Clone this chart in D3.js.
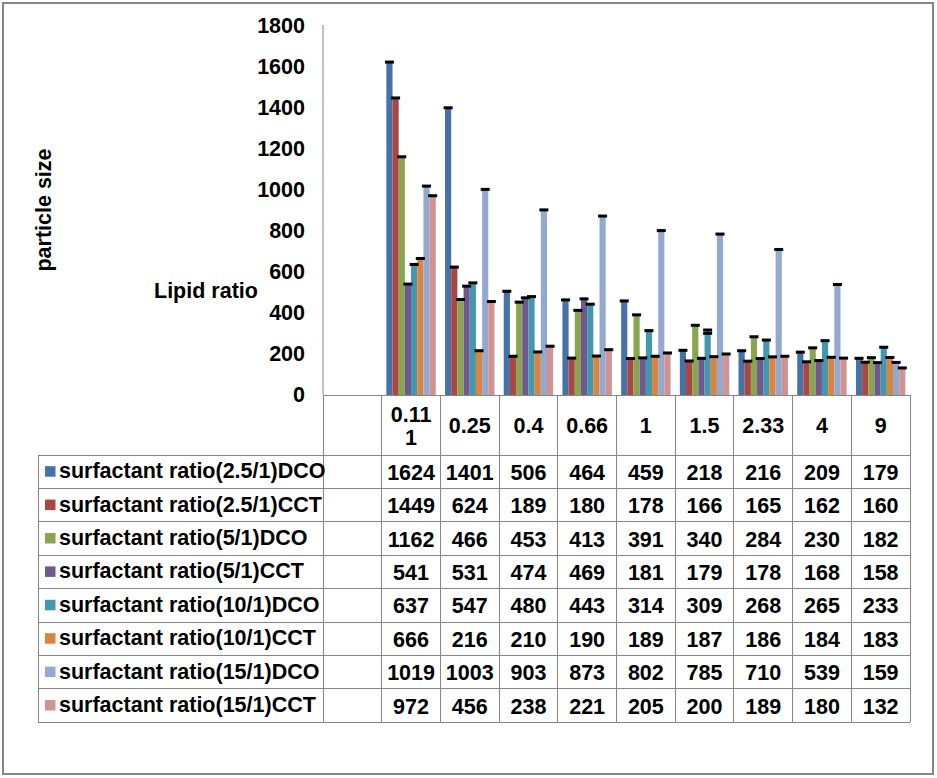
<!DOCTYPE html>
<html>
<head>
<meta charset="utf-8">
<script src="https://cdn.jsdelivr.net/npm/d3@7"></script>
<style>
  html, body { margin: 0; padding: 0; background: #fff; }
  svg { display: block; }
  text { font-family: "Liberation Sans", Arial, sans-serif; font-weight: bold; fill: #000; }
</style>
</head>
<body>
<svg id="chart" width="937" height="778"></svg>
<script>
// ---- data ----
const categories = ["", "0.111", "0.25", "0.4", "0.66", "1", "1.5", "2.33", "4", "9"];
const seriesNames = [
  "surfactant ratio(2.5/1)DCO",
  "surfactant ratio(2.5/1)CCT",
  "surfactant ratio(5/1)DCO",
  "surfactant ratio(5/1)CCT",
  "surfactant ratio(10/1)DCO",
  "surfactant ratio(10/1)CCT",
  "surfactant ratio(15/1)DCO",
  "surfactant ratio(15/1)CCT"
];
const s25DCO  = [1624, 1401, 506, 464, 459, 218, 216, 209, 179];
const s25CCT  = [1449, 624, 189, 180, 178, 166, 165, 162, 160];
const s5DCO   = [1162, 466, 453, 413, 391, 340, 284, 230, 182];
const s5CCT   = [541, 531, 474, 469, 181, 179, 178, 168, 158];
const s10DCO  = [637, 547, 480, 443, 314, 309, 268, 265, 233];
const s10CCT  = [666, 216, 210, 190, 189, 187, 186, 184, 183];
const s15DCO  = [1019, 1003, 903, 873, 802, 785, 710, 539, 159];
const s15CCT  = [972, 456, 238, 221, 205, 200, 189, 180, 132];
const seriesValues = [s25DCO, s25CCT, s5DCO, s5CCT, s10DCO, s10CCT, s15DCO, s15CCT];
// error bar half-widths (mostly negligible)
const err10DCO = [0, 0, 0, 0, 0, 8, 0, 0, 0];
const seriesErrors = [null, null, null, null, err10DCO, null, null, null];
const colors = ["#4572A7", "#AA4643", "#89A54E", "#71588F", "#4198AF", "#DB843D", "#93A9CF", "#D19392"];
const yTicks = [0, 200, 400, 600, 800, 1000, 1200, 1400, 1600, 1800];
const yTitle = "particle size";
const xTitle = "Lipid ratio";

// ---- layout ----
const FS = 21.5;
const lineColor = "#868686";
const plotLeft = 323, plotRight = 910, plotTop = 26, plotBottom = 395;
const tableLeft = 38, headerBottom = 455, rowH = 33.4;

const svg = d3.select("#chart");

// outer border
svg.append("rect").attr("x", 3).attr("y", 3).attr("width", 930).attr("height", 771)
  .attr("fill", "none").attr("stroke", lineColor).attr("stroke-width", 2);

const x = d3.scaleBand().domain(categories).range([plotLeft, plotRight]).paddingInner(0).paddingOuter(0);
const bw = x.bandwidth();
const barW = bw / (seriesNames.length + 1.5);
const xs = d3.scaleBand().domain(seriesNames).range([barW * 0.75, bw - barW * 0.75]).padding(0);
const y = d3.scaleLinear().domain([0, 1800]).range([plotBottom, plotTop]);

// y axis
const yAxis = d3.axisLeft(y).tickValues(yTicks).tickFormat(d3.format("d")).tickSize(0).tickPadding(18);
const gy = svg.append("g").attr("transform", `translate(${plotLeft},0)`).call(yAxis);
gy.select(".domain").attr("stroke", lineColor).attr("d", `M0,${plotTop - 1}V${plotBottom}`);
gy.selectAll("text").style("font-size", FS + "px").style("font-family", '"Liberation Sans", Arial, sans-serif')
  .style("font-weight", "bold").attr("fill", "#000");

// titles
svg.append("text").attr("transform", `translate(51,210) rotate(-90)`)
  .attr("text-anchor", "middle").style("font-size", FS + "px").text(yTitle);
svg.append("text").attr("x", 154).attr("y", 298).style("font-size", FS + "px").text(xTitle);

// bars
const dataCats = categories.slice(1);
const bars = svg.append("g");
seriesNames.forEach((name, si) => {
  const g = bars.append("g");
  g.selectAll("rect").data(seriesValues[si]).join("rect")
    .attr("x", (d, i) => x(dataCats[i]) + xs(name))
    .attr("y", d => y(d))
    .attr("width", xs.bandwidth())
    .attr("height", d => y(0) - y(d))
    .attr("fill", colors[si]);
});
// error caps
seriesNames.forEach((name, si) => {
  const g = bars.append("g");
  seriesValues[si].forEach((v, i) => {
    const e = seriesErrors[si] ? seriesErrors[si][i] : 0;
    const cx = x(dataCats[i]) + xs(name) + xs.bandwidth() / 2;
    const ends = e > 0 ? [v + e, v - e] : [v];
    if (e > 0) {
      g.append("line").attr("x1", cx).attr("x2", cx).attr("y1", y(v + e)).attr("y2", y(v - e))
        .attr("stroke", "#000").attr("stroke-width", 1);
    }
    ends.forEach(val => {
      g.append("rect").attr("x", cx - 4.5).attr("y", y(val) - 1.5).attr("width", 9).attr("height", 3)
        .attr("fill", "#000");
    });
  });
});

// ---- data table ----
const tbl = svg.append("g").attr("stroke", lineColor).attr("stroke-width", 1).attr("shape-rendering", "crispEdges");
const tableBottom = headerBottom + rowH * seriesNames.length;
tbl.append("line").attr("x1", plotLeft).attr("x2", plotRight).attr("y1", plotBottom).attr("y2", plotBottom);
for (let r = 0; r <= seriesNames.length; r++) {
  const yy = headerBottom + r * rowH;
  tbl.append("line").attr("x1", tableLeft).attr("x2", plotRight).attr("y1", yy).attr("y2", yy);
}
tbl.append("line").attr("x1", tableLeft).attr("x2", tableLeft).attr("y1", headerBottom).attr("y2", tableBottom);
categories.forEach(c => {
  tbl.append("line").attr("x1", x(c)).attr("x2", x(c)).attr("y1", plotBottom).attr("y2", tableBottom);
});
tbl.append("line").attr("x1", plotRight).attr("x2", plotRight).attr("y1", plotBottom).attr("y2", tableBottom);

// header labels (wrap if too wide)
const hdr = svg.append("g");
dataCats.forEach(c => {
  const cx = x(c) + bw / 2;
  const t = hdr.append("text").attr("text-anchor", "middle").style("font-size", FS + "px")
    .attr("x", cx).attr("y", (plotBottom + headerBottom) / 2 + 7.5).text(c);
  if (t.node().getComputedTextLength() > bw - 8) {
    let line1 = c;
    while (line1.length > 1) {
      line1 = line1.slice(0, -1);
      t.text(line1);
      if (t.node().getComputedTextLength() <= bw - 8) break;
    }
    const line2 = c.slice(line1.length);
    t.text(null).attr("y", null);
    t.append("tspan").attr("x", cx).attr("y", 422).text(line1);
    t.append("tspan").attr("x", cx).attr("y", 445).text(line2);
  }
});

// data rows
const rows = svg.append("g");
seriesNames.forEach((name, si) => {
  const cy = headerBottom + si * rowH + rowH / 2;
  rows.append("rect").attr("x", 45).attr("y", cy - 5.5).attr("width", 10.5).attr("height", 10.5)
    .attr("fill", colors[si]);
  rows.append("text").attr("x", 59).attr("y", cy + 6.5).style("font-size", FS + "px").text(name);
  seriesValues[si].forEach((v, i) => {
    rows.append("text").attr("text-anchor", "middle").style("font-size", FS + "px")
      .attr("x", x(dataCats[i]) + bw / 2).attr("y", cy + 8).text(v);
  });
});
</script>
</body>
</html>
